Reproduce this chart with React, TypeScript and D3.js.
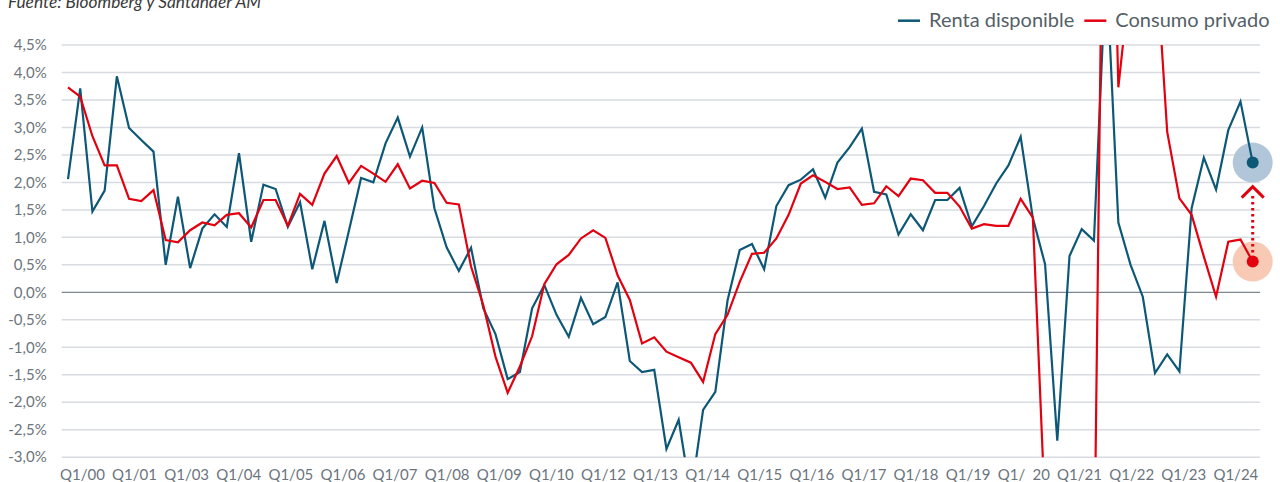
import React, { useEffect, useRef } from "react";
import * as d3 from "d3";

// Categories: quarters 2000Q1 .. 2024Q2 (98 points)
const quarters: string[] = d3.range(98).map((i) => `${2000 + Math.floor(i / 4)}Q${(i % 4) + 1}`);

// Renta disponible (y/y %)
const rentaDisponible: number[] = [
  2.06, 3.71, 1.47, 1.85, 3.93, 2.99, 2.77, 2.56, 0.50, 1.74,
  0.44, 1.16, 1.42, 1.19, 2.53, 0.92, 1.96, 1.88, 1.19, 1.64,
  0.42, 1.30, 0.17, 1.12, 2.08, 2.00, 2.71, 3.18, 2.47, 3.00,
  1.53, 0.82, 0.39, 0.81, -0.29, -0.76, -1.58, -1.45, -0.29, 0.13,
  -0.41, -0.81, -0.10, -0.58, -0.45, 0.18, -1.25, -1.45, -1.41, -2.85,
  -2.32, -3.70, -2.14, -1.81, -0.15, 0.77, 0.88, 0.42, 1.57, 1.95,
  2.05, 2.24, 1.72, 2.36, 2.64, 2.98, 1.83, 1.78, 1.05, 1.42,
  1.13, 1.68, 1.68, 1.90, 1.20, 1.57, 1.98, 2.31, 2.83, 1.35,
  0.51, -2.70, 0.66, 1.15, 0.94, 6.00, 1.27, 0.50, -0.08, -1.47,
  -1.13, -1.44, 1.53, 2.45, 1.87, 2.95, 3.47, 2.36,
];

// Consumo privado (y/y %)
const consumoPrivado: number[] = [
  3.73, 3.56, 2.84, 2.31, 2.31, 1.70, 1.66, 1.86, 0.95, 0.91,
  1.13, 1.27, 1.22, 1.41, 1.44, 1.18, 1.68, 1.68, 1.21, 1.79,
  1.59, 2.16, 2.48, 1.99, 2.30, 2.16, 2.01, 2.33, 1.89, 2.03,
  1.99, 1.63, 1.60, 0.47, -0.23, -1.17, -1.83, -1.35, -0.80, 0.15,
  0.51, 0.68, 0.98, 1.13, 0.99, 0.31, -0.14, -0.93, -0.82, -1.08,
  -1.18, -1.28, -1.63, -0.76, -0.41, 0.19, 0.70, 0.72, 0.98, 1.41,
  1.98, 2.13, 2.01, 1.88, 1.91, 1.59, 1.62, 1.93, 1.75, 2.07,
  2.04, 1.81, 1.81, 1.56, 1.16, 1.24, 1.21, 1.21, 1.70, 1.36,
  -4.00, -20.0, -8.00, -6.50, -5.50, 12.80, 3.73, 5.80, 7.50, 6.40,
  2.92, 1.71, 1.41, 0.65, -0.08, 0.92, 0.96, 0.56,
];

const seriesNames: string[] = ["Renta disponible", "Consumo privado"];
const seriesColors: string[] = ["#0d5877", "#e3000f"];
const haloColors: string[] = ["#a9c1d5", "#f7c4ad"];

const yTicks: number[] = [-3, -2.5, -2, -1.5, -1, -0.5, 0, 0.5, 1, 1.5, 2, 2.5, 3, 3.5, 4, 4.5];

const xTickLabels: string[] = [
  "Q1/00", "Q1/01", "Q1/03", "Q1/04", "Q1/05", "Q1/06", "Q1/07", "Q1/08",
  "Q1/09", "Q1/10", "Q1/12", "Q1/13", "Q1/14", "Q1/15", "Q1/16", "Q1/17",
  "Q1/18", "Q1/19", "Q1/ 20", "Q1/21", "Q1/22", "Q1/23", "Q1/24",
];

const sourceText = "Fuente: Bloomberg y Santander AM";

const FONT = "Lato, 'Open Sans', 'Noto Sans', sans-serif";

export default function App() {
  const ref = useRef<SVGSVGElement>(null);

  useEffect(() => {
    const svg = d3.select(ref.current);
    svg.selectAll("*").remove();

    const gridX0 = 61.7;
    const gridX1 = 1260;
    const x = d3.scalePoint<string>().domain(quarters).range([68, 1252.7]);
    const y = d3.scaleLinear().domain([-3, 4.5]).range([457.2, 45]);

    svg
      .append("defs")
      .append("clipPath")
      .attr("id", "plotClip")
      .append("rect")
      .attr("x", gridX0 - 2)
      .attr("y", y(4.5))
      .attr("width", gridX1 - gridX0 + 8)
      .attr("height", y(-3) - y(4.5));

    // Source
    svg
      .append("text")
      .attr("x", 8)
      .attr("y", 8)
      .attr("font-family", FONT)
      .attr("font-style", "italic")
      .attr("font-size", 17.3)
      .attr("fill", "#3a3a3a")
      .text(sourceText);

    // Gridlines
    svg
      .append("g")
      .selectAll("line")
      .data(yTicks)
      .join("line")
      .attr("x1", gridX0)
      .attr("x2", gridX1)
      .attr("y1", (d) => y(d))
      .attr("y2", (d) => y(d))
      .attr("stroke", (d) => (d === 0 ? "#7c8791" : "#d8dce1"))
      .attr("stroke-width", (d) => (d === 0 ? 1.2 : 1.5));

    // Y labels
    svg
      .append("g")
      .selectAll("text")
      .data(yTicks)
      .join("text")
      .attr("x", 46.7)
      .attr("y", (d) => y(d))
      .attr("dy", "0.35em")
      .attr("text-anchor", "end")
      .attr("font-family", FONT)
      .attr("font-size", 15)
      .attr("fill", "#6c757d")
      .text((d) => d.toFixed(1).replace(".", ",") + "%");

    // X labels: tokens flowed evenly across the axis row
    const tokens = xTickLabels.flatMap((l) => l.split(" "));
    const xt = svg
      .append("g")
      .selectAll("text")
      .data(tokens)
      .join("text")
      .attr("y", 480)
      .attr("font-family", FONT)
      .attr("font-size", 15)
      .attr("fill", "#6c757d")
      .text((d) => d);
    const widths = (xt.nodes() as SVGTextElement[]).map((n) => n.getComputedTextLength());
    const rowStart = 60;
    const rowEnd = 1258.3;
    const gap = (rowEnd - rowStart - d3.sum(widths)) / (tokens.length - 1);
    let cursor = rowStart;
    const xs = widths.map((w) => {
      const v = cursor;
      cursor += w + gap;
      return v;
    });
    xt.attr("x", (_d, i) => xs[i]);

    // Legend
    const lg = svg.append("g");
    let lx = 898;
    seriesNames.forEach((name, i) => {
      lg.append("line")
        .attr("x1", lx)
        .attr("x2", lx + 22)
        .attr("y1", 20.7)
        .attr("y2", 20.7)
        .attr("stroke", seriesColors[i])
        .attr("stroke-width", 2.5);
      const t = lg
        .append("text")
        .attr("x", lx + 31)
        .attr("y", 26.8)
        .attr("font-family", FONT)
        .attr("font-size", 20)
        .attr("fill", "#555f68")
        .text(name);
      const w = (t.node() as SVGTextElement).getComputedTextLength();
      lx = lx + 31 + w + 10;
    });

    const last = quarters.length - 1;
    const lastX = x(quarters[last]) as number;
    const yBlue = y(rentaDisponible[last]);
    const yRed = y(consumoPrivado[last]);

    // Halos
    [yBlue, yRed].forEach((cy, i) => {
      svg
        .append("circle")
        .attr("cx", lastX)
        .attr("cy", cy)
        .attr("r", 20)
        .attr("fill", haloColors[i])
        .attr("opacity", 0.9);
    });

    // Lines
    const line = d3
      .line<number>()
      .x((_d, i) => x(quarters[i]) as number)
      .y((d) => y(d));
    const lines = svg.append("g").attr("clip-path", "url(#plotClip)");
    [rentaDisponible, consumoPrivado].forEach((data, i) => {
      lines
        .append("path")
        .attr("d", line(data))
        .attr("fill", "none")
        .attr("stroke", seriesColors[i])
        .attr("stroke-width", 2.2)
        .attr("stroke-linejoin", "miter");
    });

    // Dots
    [yBlue, yRed].forEach((cy, i) => {
      svg
        .append("circle")
        .attr("cx", lastX)
        .attr("cy", cy)
        .attr("r", 6)
        .attr("fill", seriesColors[i]);
    });

    // Dotted arrow from red point towards blue point
    const tipY = yBlue + 24;
    svg
      .append("line")
      .attr("x1", lastX)
      .attr("x2", lastX)
      .attr("y1", yRed - 9)
      .attr("y2", tipY + 6)
      .attr("stroke", seriesColors[1])
      .attr("stroke-width", 3)
      .attr("stroke-dasharray", "2.5 3.5");
    svg
      .append("path")
      .attr("d", `M${lastX - 11},${tipY + 11} L${lastX},${tipY} L${lastX + 11},${tipY + 11}`)
      .attr("fill", "none")
      .attr("stroke", seriesColors[1])
      .attr("stroke-width", 3);
  }, []);

  return (
    <svg
      ref={ref}
      width={1280}
      height={482}
      style={{ position: "absolute", left: 0, top: 0, background: "#fff" }}
    />
  );
}
